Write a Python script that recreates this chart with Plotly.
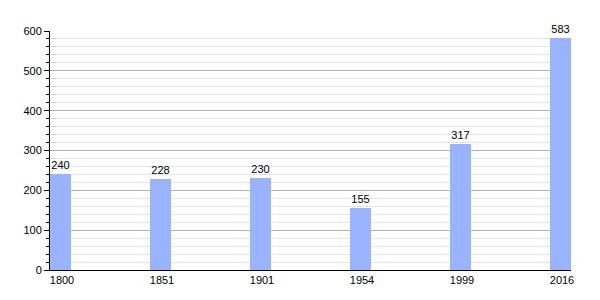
import plotly.graph_objects as go

years = ["1800", "1851", "1901", "1954", "1999", "2016"]
population = [240, 228, 230, 155, 317, 583]

idx = list(range(len(years)))
bar_w = 0.21

fig = go.Figure()
fig.add_trace(go.Bar(
    x=idx, y=population, width=bar_w, offset=0,
    marker=dict(color="#99b3ff", line=dict(width=0)),
    text=[str(v) for v in population], textposition="outside",
    textfont=dict(family="Liberation Sans, Arial, sans-serif", size=11, color="black"),
    cliponaxis=False,
))

fig.update_layout(
    width=600, height=300,
    margin=dict(l=50, r=29, t=31, b=30),
    paper_bgcolor="white", plot_bgcolor="white",
    showlegend=False,
    font=dict(family="Liberation Sans, Arial, sans-serif", size=11, color="black"),
    bargap=0,
)
fig.update_xaxes(
    range=[0, len(years) - 1 + bar_w],
    tickmode="array", tickvals=[i + 0.12 for i in idx], ticktext=years,
    showgrid=False, zeroline=False,
    showline=True, linecolor="black", linewidth=1,
    ticks="", ticklen=0,
)
fig.update_yaxes(
    range=[0, 600], dtick=100,
    showgrid=True, gridcolor="#b0b0b0", gridwidth=1,
    zeroline=False,
    showline=True, linecolor="black", linewidth=1,
    ticks="outside", ticklen=5, tickcolor="black",
    minor=dict(dtick=20, showgrid=True, gridcolor="#e4e4e4", ticks="outside", ticklen=3, tickcolor="black"),
)

fig.write_html("out.html")
